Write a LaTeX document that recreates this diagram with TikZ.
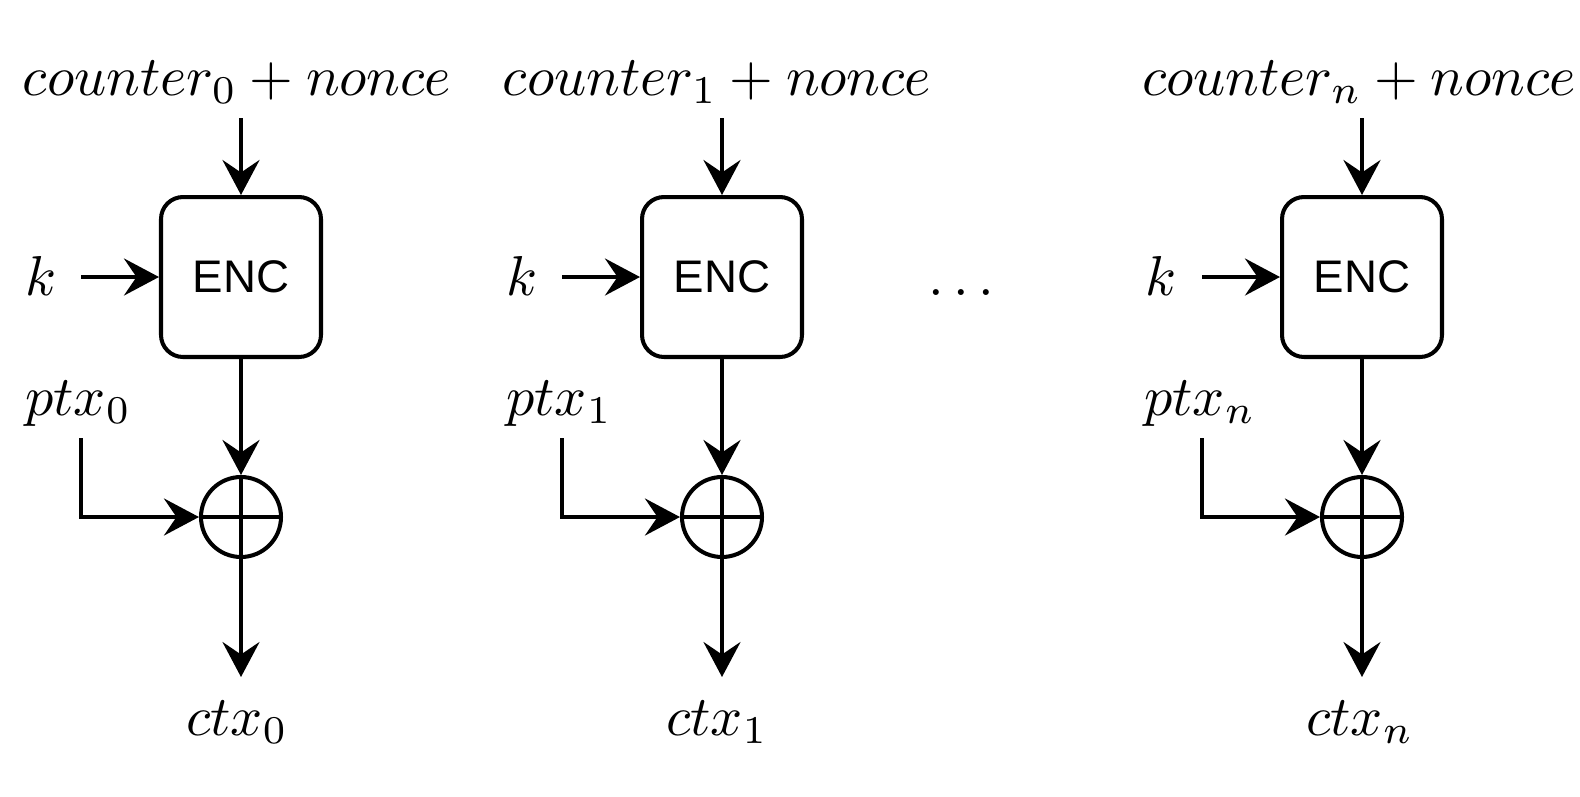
\documentclass[tikz,border=0pt]{standalone}
\usepackage{fontspec}
\newfontfamily\encfont{Liberation Sans}
\usetikzlibrary{arrows.meta,positioning}

\newcommand{\mathlbl}[1]{\scalebox{3.2}{$#1$}}

\begin{document}
\begin{tikzpicture}[x=0.02cm, y=-0.02cm,
    encbox/.style={rectangle, rounded corners=0.44cm, draw, line width=2.3pt, minimum width=3.2cm, minimum height=3.2cm, font=\encfont\fontsize{26}{31}\selectfont},
    xorop/.style={circle, draw, line width=2.3pt, minimum size=1.6cm, inner sep=0pt},
    lbl/.style={inner sep=0pt, font=\fontsize{10}{12}\selectfont},
    line/.style={line width=2.3pt},
    arrow/.style={-{Stealth[length=0.7cm, width=0.74cm, inset=0.25cm]}, line width=2.3pt}
]
\useasboundingbox (0,0) rectangle (1580,796);

% block 0
\node[encbox] (enc0) at (241,277) {ENC};
\node[xorop] (xor0) at (241,517) {};
\node[lbl, anchor=base] (cnt0) at (237,95) {\mathlbl{counter_0+nonce}};
\node[lbl, anchor=base west] (k0) at (25,295) {\mathlbl{k}};
\node[lbl, anchor=base west] (ptx0) at (25,415) {\mathlbl{ptx_0}};
\node[lbl, anchor=base] (ctx0) at (237,735) {\mathlbl{ctx_0}};
\coordinate (cin0) at (241,118);
\coordinate (kin0) at (81,277);
\coordinate (pin0) at (81,438);
\coordinate (out0) at (241,677);

\draw[arrow] (cin0) -- (enc0);
\draw[arrow] (kin0) -- (enc0);
\draw[arrow] (enc0) -- (xor0);
\draw[arrow] (pin0) |- (xor0);
\draw[arrow] (xor0) -- (out0);
\draw[line] (xor0.north) -- (xor0.south) (xor0.west) -- (xor0.east);

% block 1
\node[encbox] (enc1) at (722,277) {ENC};
\node[xorop] (xor1) at (722,517) {};
\node[lbl, anchor=base] (cnt1) at (717,95) {\mathlbl{counter_1+nonce}};
\node[lbl, anchor=base west] (k1) at (506,295) {\mathlbl{k}};
\node[lbl, anchor=base west] (ptx1) at (506,415) {\mathlbl{ptx_1}};
\node[lbl, anchor=base] (ctx1) at (717,735) {\mathlbl{ctx_1}};
\coordinate (cin1) at (722,118);
\coordinate (kin1) at (562,277);
\coordinate (pin1) at (562,438);
\coordinate (out1) at (722,677);

\draw[arrow] (cin1) -- (enc1);
\draw[arrow] (kin1) -- (enc1);
\draw[arrow] (enc1) -- (xor1);
\draw[arrow] (pin1) |- (xor1);
\draw[arrow] (xor1) -- (out1);
\draw[line] (xor1.north) -- (xor1.south) (xor1.west) -- (xor1.east);

% gap
\node[lbl, anchor=base] (dots) at (961,295) {\mathlbl{\dots}};

% block n
\node[encbox] (encn) at (1362,277) {ENC};
\node[xorop] (xorn) at (1362,517) {};
\node[lbl, anchor=base] (cntn) at (1359,95) {\mathlbl{counter_n+nonce}};
\node[lbl, anchor=base west] (kn) at (1145,295) {\mathlbl{k}};
\node[lbl, anchor=base west] (ptxn) at (1144,415) {\mathlbl{ptx_n}};
\node[lbl, anchor=base] (ctxn) at (1360,735) {\mathlbl{ctx_n}};
\coordinate (cinn) at (1362,118);
\coordinate (kinn) at (1202,277);
\coordinate (pinn) at (1202,438);
\coordinate (outn) at (1362,677);

\draw[arrow] (cinn) -- (encn);
\draw[arrow] (kinn) -- (encn);
\draw[arrow] (encn) -- (xorn);
\draw[arrow] (pinn) |- (xorn);
\draw[arrow] (xorn) -- (outn);
\draw[line] (xorn.north) -- (xorn.south) (xorn.west) -- (xorn.east);
\end{tikzpicture}
\end{document}
